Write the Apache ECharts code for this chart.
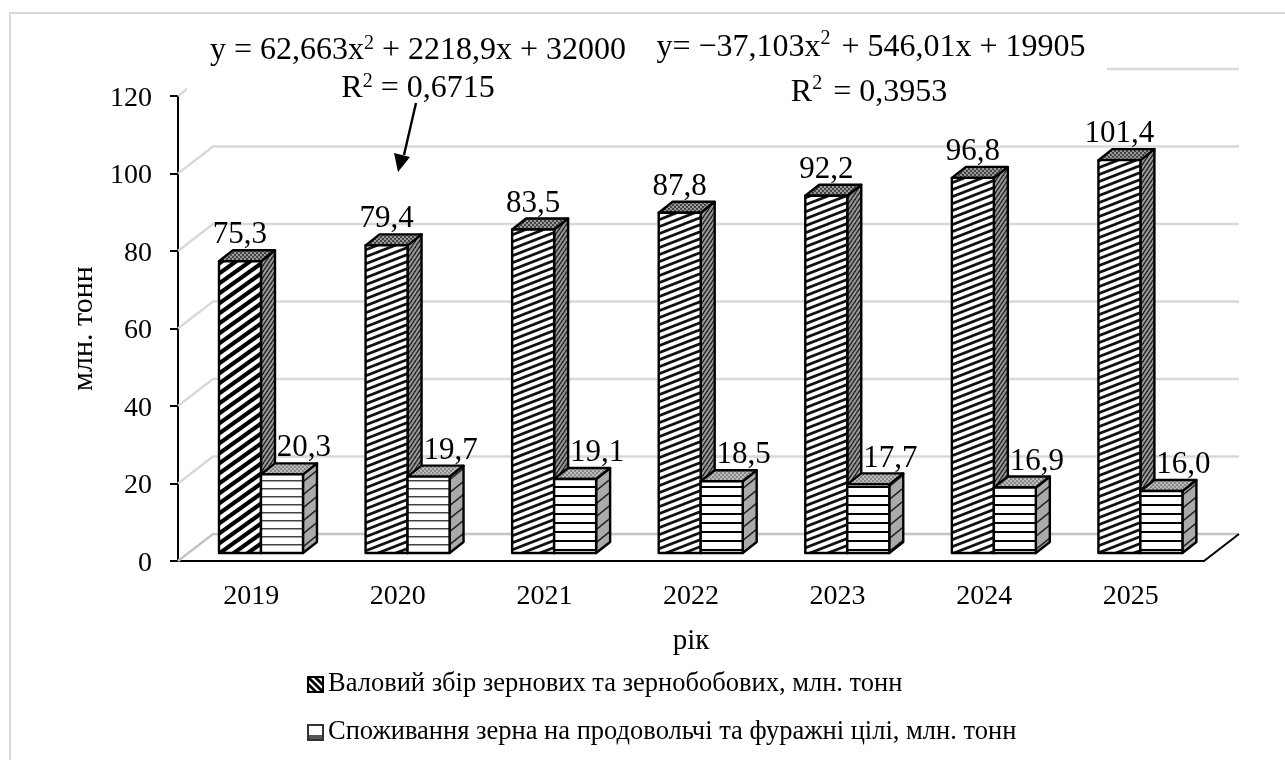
<!DOCTYPE html>
<html>
<head>
<meta charset="utf-8">
<style>html,body{margin:0;padding:0;background:#fff}#chart{width:1285px;height:760px}</style>
<script src="https://cdn.jsdelivr.net/npm/echarts@6/dist/echarts.min.js"></script>
</head>
<body>
<div id="chart"></div>
<script>
const years = ["2019", "2020", "2021", "2022", "2023", "2024", "2025"];
const harvest = [75.3, 79.4, 83.5, 87.8, 92.2, 96.8, 101.4];
const consumption = [20.3, 19.7, 19.1, 18.5, 17.7, 16.9, 16.0];
const wallTicks = [0, 20, 40, 60, 80, 100, 120];
const harvestName = "Валовий збір зернових та зернобобових, млн. тонн";
const consumptionName = "Споживання зерна на продовольчі та фуражні цілі, млн. тонн";
const serif = "Liberation Serif";

// hatch tiles
const makeTile = (w, h, draw) => {
    const c = document.createElement("canvas");
    c.width = w;
    c.height = h;
    draw(c.getContext("2d"), w, h);
    return { image: c, repeat: "repeat" };
};
const diagonal = (w, h, lw, fg, bg) => makeTile(w, h, (g) => {
    g.fillStyle = bg;
    g.fillRect(0, 0, w, h);
    g.strokeStyle = fg;
    g.lineWidth = lw;
    // run each line past the tile edges so the seams stay clean
    [-w, 0, w].forEach((dx) => {
        g.beginPath();
        g.moveTo(dx - w, 2 * h);
        g.lineTo(dx + 2 * w, -h);
        g.stroke();
    });
});
const horizontal = (h, lw, fg, bg) => makeTile(4, h, (g, w) => {
    g.fillStyle = bg;
    g.fillRect(0, 0, w, h);
    g.fillStyle = fg;
    g.fillRect(0, 0, w, lw);
});
const speckle = (fg, bg) => makeTile(4, 4, (g) => {
    g.fillStyle = bg;
    g.fillRect(0, 0, 4, 4);
    g.fillStyle = fg;
    g.fillRect(0, 0, 2, 2);
    g.fillRect(2, 2, 2, 2);
});
const legendBand = makeTile(4, 15, (g) => {
    g.fillStyle = "#fff";
    g.fillRect(0, 0, 4, 15);
    g.fillStyle = "#555";
    g.fillRect(0, 10, 4, 5);
});
const legendSlash = makeTile(7, 7, (g) => {
    g.fillStyle = "#fff";
    g.fillRect(0, 0, 7, 7);
    g.strokeStyle = "#000";
    g.lineWidth = 2.8;
    [-7, 0, 7].forEach((dx) => {
        g.beginPath();
        g.moveTo(dx - 7, -7);
        g.lineTo(dx + 14, 14);
        g.stroke();
    });
});

const hatch = {
    harvestFirst: diagonal(14, 10, 4.2, "#000", "#fff"),
    harvestFront: diagonal(18, 7, 2.7, "#111", "#fff"),
    harvestSide: diagonal(4, 6, 1.3, "#222", "#999"),
    harvestTop: speckle("#444", "#999"),
    consThin: horizontal(8, 1.5, "#444", "#fff"),
    consThick: horizontal(9, 2, "#000", "#fff"),
    consSide: diagonal(16, 13, 1.5, "#222", "#aaa"),
    consTop: speckle("#888", "#bbb"),
};

const depthX = 14;
const depthY = 11;
const barGap = 8;

const drawBar = (series, params, api) => {
    const i = api.value(0);
    const base = api.coord([i, 0]);
    const top = api.coord([i, api.value(1)]);
    const w = api.size([1, 0])[0] * 0.2865;
    const mid = base[0] + 9.7;
    const x0 = series === 0 ? mid - w : mid;
    const x1 = x0 + w;
    const yb = base[1] - barGap;
    const yt = top[1] - barGap;
    const front = series === 0
        ? (i === 0 ? hatch.harvestFirst : hatch.harvestFront)
        : (i < 2 ? hatch.consThin : hatch.consThick);
    const side = series === 0 ? hatch.harvestSide : hatch.consSide;
    const roof = series === 0 ? hatch.harvestTop : hatch.consTop;
    const edge = { stroke: "#000", lineWidth: 2.4, lineJoin: "round" };
    const label = api.value(1).toFixed(1).replace(".", ",");
    const labelX = series === 0 ? (x0 + x1) / 2 : (x0 + x1) / 2 + 22;
    return {
        type: "group",
        children: [
            { type: "polygon", shape: { points: [[x1, yt], [x1 + depthX, yt - depthY], [x1 + depthX, yb - depthY], [x1, yb]] }, style: { fill: side, ...edge } },
            { type: "polygon", shape: { points: [[x0, yt], [x1, yt], [x1 + depthX, yt - depthY], [x0 + depthX, yt - depthY]] }, style: { fill: roof, ...edge } },
            { type: "rect", shape: { x: x0, y: yt, width: w, height: yb - yt }, style: { fill: front, ...edge } },
            { type: "text", z2: 5, style: { text: label, x: labelX, y: yt - 26, align: "center", verticalAlign: "middle", font: "31px '" + serif + "'", fill: "#000" } },
        ],
    };
};

const drawWall = (params, api) => {
    const v = api.value(0);
    const half = api.size([1, 0])[0] / 2;
    const left = [api.coord([0, v])[0] - half, api.coord([0, v])[1]];
    const right = [api.coord([6, v])[0] + half, left[1]];
    const dx = 35;
    const dy = 27;
    const lines = [
        { type: "polyline", shape: { points: [left, [left[0] + dx, left[1] - dy], [right[0] + dx, right[1] - dy]] }, style: { fill: "none", stroke: v === 0 ? "#c4c4c4" : "#d9d9d9", lineWidth: 2.4 } },
    ];
    if (v === 0) {
        lines.push({ type: "line", shape: { x1: right[0], y1: right[1], x2: right[0] + dx, y2: right[1] - dy }, style: { stroke: "#000", lineWidth: 2 } });
    }
    return { type: "group", children: lines };
};

const eqText = (text, x, y, sup) => ({
    type: "text",
    z: 21,
    x,
    y,
    style: {
        text,
        rich: { s: { fontSize: 20, fontFamily: serif, verticalAlign: "bottom", ...sup } },
        align: "center",
        verticalAlign: "middle",
        fontSize: 32,
        fontFamily: serif,
        fill: "#000",
    },
});

const chart = echarts.init(document.getElementById("chart"));
chart.setOption({
    animation: false,
    textStyle: { fontFamily: serif, color: "#000" },
    grid: { left: 178, right: 81, top: 96, bottom: 199 },
    xAxis: {
        type: "category",
        data: years,
        name: "рік",
        nameLocation: "middle",
        nameGap: 66,
        nameTextStyle: { fontSize: 29, fontFamily: serif, color: "#000" },
        axisTick: { show: false },
        axisLine: { lineStyle: { color: "#000", width: 2 } },
        axisLabel: { fontSize: 28, margin: 22, fontFamily: serif, color: "#000" },
    },
    yAxis: {
        type: "value",
        min: 0,
        max: 120,
        interval: 20,
        name: "млн. тонн",
        nameLocation: "middle",
        nameRotate: 90,
        nameGap: 69,
        nameTextStyle: { fontSize: 30, fontFamily: serif, color: "#000" },
        axisLine: { show: true, lineStyle: { color: "#000", width: 2 } },
        axisTick: { show: true, length: 8, lineStyle: { color: "#000", width: 2 } },
        axisLabel: {
            margin: 26,
            formatter: "{n|{value}}",
            rich: { n: { fontSize: 28, fontFamily: serif, color: "#000", padding: [5, 0, 0, 0] } },
        },
        splitLine: { show: false },
    },
    legend: {
        left: 302,
        top: 666,
        orient: "vertical",
        icon: "rect",
        itemWidth: 15,
        itemHeight: 15,
        itemGap: 21,
        selectedMode: false,
        textStyle: { fontSize: 26.5, fontFamily: serif, color: "#000" },
        data: [harvestName, consumptionName],
    },
    series: [
        {
            type: "custom",
            silent: true,
            z: 1,
            renderItem: drawWall,
            encode: { y: 0 },
            data: wallTicks.map((v) => [v]),
        },
        {
            name: harvestName,
            type: "custom",
            z: 2,
            itemStyle: { color: legendSlash, borderColor: "#000", borderWidth: 1.5 },
            renderItem: (p, a) => drawBar(0, p, a),
            encode: { x: 0, y: 1 },
            data: harvest.map((v, i) => [i, v]),
        },
        {
            name: consumptionName,
            type: "custom",
            z: 3,
            itemStyle: { color: legendBand, borderColor: "#333", borderWidth: 1.5 },
            renderItem: (p, a) => drawBar(1, p, a),
            encode: { x: 0, y: 1 },
            data: consumption.map((v, i) => [i, v]),
        },
    ],
    graphic: [
        { type: "polyline", z: 0, shape: { points: [[10, 760], [10, 13], [1285, 13]] }, style: { fill: "none", stroke: "#d9d9d9", lineWidth: 2 } },
        { type: "rect", z: 20, shape: { x: 187, y: 30, width: 920, height: 77 }, style: { fill: "#fff" } },
        eqText("y = 62,663x{s|2} + 2218,9x + 32000", 418, 51, { padding: [0, 0, 14, 0] }),
        eqText("R{s|2} = 0,6715", 418, 89, { padding: [0, 0, 14, 0] }),
        eqText("y= −37,103x{s|2} + 546,01x + 19905", 871, 48, { padding: [0, 3, 18, 0] }),
        eqText("R{s|2} = 0,3953", 869, 93, { padding: [0, 3, 18, 0] }),
        { type: "line", z: 22, shape: { x1: 416, y1: 103, x2: 404, y2: 155 }, style: { stroke: "#000", lineWidth: 2.4 } },
        { type: "polygon", z: 22, shape: { points: [[398, 172], [394, 153], [410, 157]] }, style: { fill: "#000" } },
    ],
});
</script>
</body>
</html>
